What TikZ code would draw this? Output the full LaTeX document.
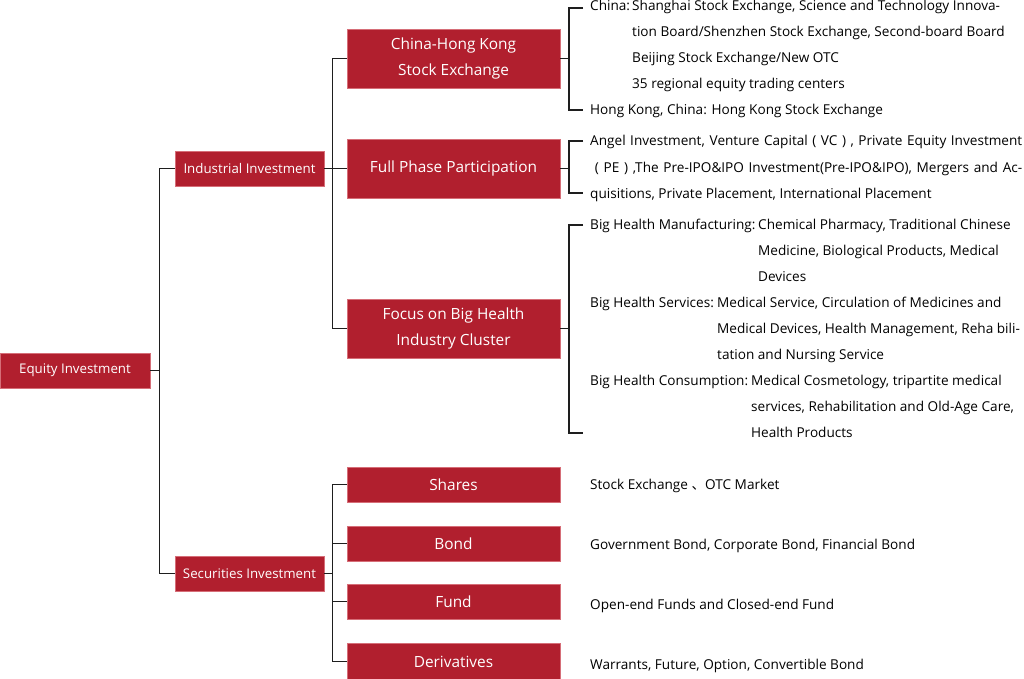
\documentclass[tikz,border=0pt]{standalone}
\usepackage{fontspec}
\setmainfont{Open Sans}
\newfontfamily\cjk{Noto Sans CJK SC}
\definecolor{boxred}{RGB}{177,31,46}
\definecolor{boxedge}{RGB}{214,110,120}
\definecolor{linec}{RGB}{30,30,30}
\begin{document}
\begin{tikzpicture}[x=1pt,y=-1pt,
  box/.style={fill=boxred,draw=boxedge,line width=0.5pt,text=white,inner sep=0pt,align=center},
  smallbox/.style={box,minimum width=149pt,minimum height=35pt,font=\fontsize{13.3}{26}\selectfont},
  bigbox/.style={box,minimum width=213pt,minimum height=59pt,font=\fontsize{15.4}{26}\selectfont},
  midbox/.style={box,minimum width=213pt,minimum height=35pt,font=\fontsize{15.4}{26}\selectfont},
  conn/.style={draw=linec,line width=1.1pt},
  txt/.style={anchor=base west,inner sep=0pt,font=\fontsize{13.6}{26}\selectfont}]
\useasboundingbox (0,0) rectangle (1024,679);
% boxes
\node[smallbox,minimum width=150pt] (eq) at (75,370.5) {Equity Investment};
\node[smallbox] (ind) at (249.5,168.5) {Industrial Investment};
\node[smallbox] (sec) at (249.5,573.5) {Securities Investment};
\node[bigbox] (chk) at (453.5,58.5) {China-Hong Kong\\Stock Exchange};
\node[bigbox] (full) at (453.5,168.5) {Full Phase Participation};
\node[bigbox] (foc) at (453.5,328.5) {Focus on Big Health\\Industry Cluster};
\node[midbox] (shr) at (453.5,484.5) {Shares};
\node[midbox] (bnd) at (453.5,543.5) {Bond};
\node[midbox] (fnd) at (453.5,601.5) {Fund};
\node[midbox,minimum height=36pt] (der) at (453.5,661.5) {Derivatives};
% tree connectors
\draw[conn] (eq.east) -- ++(10,0);
\draw[conn] (ind.west) -- ++(-15,0) |- (sec.west);
\draw[conn] (ind.east) -- ++(9,0);
\draw[conn] (chk.west) -- ++(-14,0) |- (foc.west);
\draw[conn] (full.west) -- ++(-14,0);
\draw[conn] (sec.east) -- ++(9,0);
\draw[conn] (shr.west) -- ++(-14,0) |- (der.west);
\draw[conn] (bnd.west) -- ++(-14,0);
\draw[conn] (fnd.west) -- ++(-14,0);
% text brackets
\coordinate (b1t) at (583,8); \coordinate (b1b) at (583,110);
\coordinate (b2t) at (583,141); \coordinate (b2b) at (583,193);
\coordinate (b3t) at (583,225); \coordinate (b3b) at (583,433);
\draw[conn] (chk.east) -- ++(9,0);
\draw[conn] (b1t) -- ++(-14,0) |- (b1b);
\draw[conn] (full.east) -- ++(9,0);
\draw[conn] (b2t) -- ++(-14,0) |- (b2b);
\draw[conn] (foc.east) -- ++(9,0);
\draw[conn] (b3t) -- ++(-14,0) |- (b3b);
% China-HK text
\node[txt] (t1a) at (590,11) {China:};
\node[txt] (t1b) at (632,11) {Shanghai Stock Exchange, Science and Technology Innova-};
\node[txt] (t1c) at (632,37) {tion Board/Shenzhen Stock Exchange, Second-board Board};
\node[txt] (t1d) at (632,63) {Beijing Stock Exchange/New OTC};
\node[txt] (t1e) at (632,89) {35 regional equity trading centers};
\node[txt] (t1f) at (590,115) {Hong Kong, China: Hong Kong Stock Exchange};
% Full phase text
\node[txt] (t2a) at (590,146) {\makebox[432pt][s]{Angel Investment, Venture Capital ( VC ) , Private Equity Investment}};
\node[txt] (t2b) at (590,172) {\makebox[432pt][s]{\ ( PE ) ,The Pre-IPO\&IPO Investment(Pre-IPO\&IPO), Mergers and Ac-}};
\node[txt] (t2c) at (590,198) {quisitions, Private Placement, International Placement};
% Big health text
\node[txt] (t3a) at (590,229) {Big Health Manufacturing:};
\node[txt] (t3b) at (758,229) {Chemical Pharmacy, Traditional Chinese};
\node[txt] (t3c) at (758,255) {Medicine, Biological Products, Medical};
\node[txt] (t3d) at (758,281) {Devices};
\node[txt] (t3e) at (590,307) {Big Health Services:};
\node[txt] (t3f) at (717,307) {Medical Service, Circulation of Medicines and};
\node[txt] (t3g) at (717,333) {Medical Devices, Health Management, Reha bili-};
\node[txt] (t3h) at (717,359) {tation and Nursing Service};
\node[txt] (t3i) at (590,385) {Big Health Consumption:};
\node[txt] (t3j) at (751,385) {Medical Cosmetology, tripartite medical};
\node[txt] (t3k) at (751,411) {services, Rehabilitation and Old-Age Care,};
\node[txt] (t3l) at (751,437) {Health Products};
% securities text
\node[txt] (t4) at (590,489) {Stock Exchange {\cjk 、}OTC Market};
\node[txt] (t5) at (590,549) {Government Bond, Corporate Bond, Financial Bond};
\node[txt] (t6) at (590,609) {Open-end Funds and Closed-end Fund};
\node[txt] (t7) at (590,669) {Warrants, Future, Option, Convertible Bond};
\end{tikzpicture}
\end{document}
